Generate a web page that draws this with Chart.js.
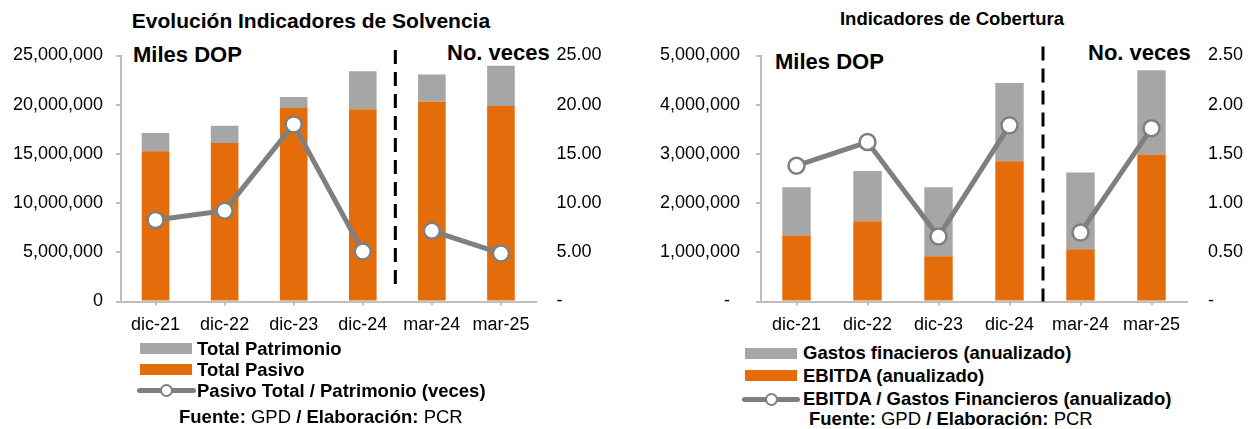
<!DOCTYPE html>
<html lang="es">
<head>
<meta charset="utf-8">
<title>Indicadores de Solvencia y Cobertura</title>
<script src="https://cdn.jsdelivr.net/npm/chart.js@4.4.1/dist/chart.umd.min.js"></script>
<style>
  html, body { margin: 0; padding: 0; background: #fff; }
  body {
    width: 1255px; height: 429px; position: relative; overflow: hidden;
    font-family: "Liberation Sans", Arial, sans-serif; color: #000;
  }
  canvas { position: absolute; top: 0; }
  .txt { position: absolute; white-space: nowrap; }
  .title { font-weight: bold; transform: translateX(-50%); }
  .unit { font-weight: bold; font-size: 22px; line-height: 22px; }
  .leg { font-weight: bold; font-size: 18.5px; line-height: 20px; }
  .src { font-size: 18.5px; line-height: 20px; }
  .src b { font-weight: bold; }
  .swatch { position: absolute; }
  .lineSwatch { position: absolute; height: 5px; background: #7F7F7F; border-radius: 3px; }
  .lineSwatch i {
    position: absolute; left: 50%; top: 50%; width: 9px; height: 9px;
    margin: -6.5px 0 0 -6.5px; border: 2px solid #7F7F7F; border-radius: 50%; background: #fff;
  }
</style>
</head>
<body>

<div class="txt title" style="left:311px; top:9px; font-size:21px; line-height:24px;">Evolución Indicadores de Solvencia</div>
<div class="txt title" style="left:952px; top:8px; font-size:18.5px; line-height:22px;">Indicadores de Cobertura</div>

<div class="txt unit" style="left:133px; top:44px;">Miles DOP</div>
<div class="txt unit" style="left:447px; top:42px;">No. veces</div>
<div class="txt unit" style="left:775px; top:51px;">Miles DOP</div>
<div class="txt unit" style="left:1088px; top:42px;">No. veces</div>

<canvas id="solvencia" width="620" height="340" style="left:0;"></canvas>
<canvas id="cobertura" width="635" height="340" style="left:620px;"></canvas>

<div id="legendSolvencia"></div>
<div id="legendCobertura"></div>

<div class="txt src" style="left:179px; top:407px;"><b>Fuente:</b> GPD <b>/</b> <b>Elaboración:</b> PCR</div>
<div class="txt src" style="left:809px; top:409px;"><b>Fuente:</b> GPD <b>/</b> <b>Elaboración:</b> PCR</div>

<script>
// ---- data ----
const categories = ['dic-21', 'dic-22', 'dic-23', 'dic-24', 'mar-24', 'mar-25'];

// Solvencia (miles DOP / veces)
const totalPasivo = [15260000, 16100000, 19670000, 19540000, 20290000, 19880000];
const totalPatrimonio = [1860000, 1760000, 1100000, 3850000, 2790000, 4080000];
const pasivoSobrePatrimonio = [8.29, 9.23, 18.0, 5.08, 7.19, 4.88];

// Cobertura (miles DOP / veces)
const ebitda = [1340000, 1630000, 920000, 2850000, 1060000, 2990000];
const gastosFinancieros = [980000, 1020000, 1400000, 1590000, 1560000, 1710000];
const ebitdaSobreGastos = [1.38, 1.62, 0.66, 1.79, 0.70, 1.76];

const solvenciaLeftTicks = { max: 25000000, step: 5000000 };
const solvenciaRightTicks = { max: 25, step: 5 };
const coberturaLeftTicks = { max: 5000000, step: 1000000 };
const coberturaRightTicks = { max: 2.5, step: 0.5 };

// ---- styles ----
const ORANGE = '#E46C0A';
const GREY_BAR = '#A6A6A6';
const GREY_LINE = '#7F7F7F';
const AXIS = '#BFBFBF';
const FONT = '"Liberation Sans", Arial, sans-serif';

Chart.defaults.font.family = FONT;
Chart.defaults.font.size = 18;
Chart.defaults.color = '#000';

// dashed separator between the annual and the quarterly columns
const dividerPlugin = {
    id: 'divider',
    afterDatasetsDraw(chart, args, opts) {
        const { ctx, chartArea, scales } = chart;
        const x = scales.x;
        const px = (x.getPixelForValue(opts.after) + x.getPixelForValue(opts.after + 1)) / 2 + opts.shift;
        ctx.save();
        ctx.strokeStyle = '#000';
        ctx.lineWidth = 3;
        ctx.setLineDash([14, 8]);
        ctx.beginPath();
        ctx.moveTo(px, chartArea.top + opts.top);
        ctx.lineTo(px, chartArea.bottom + opts.bottom);
        ctx.stroke();
        ctx.restore();
    }
};

function lineDataset(label, data) {
    return {
        type: 'line',
        label: label,
        data: data,
        yAxisID: 'y1',
        order: 0,
        borderColor: GREY_LINE,
        borderWidth: 5,
        pointRadius: 8,
        pointHoverRadius: 8,
        pointBorderWidth: 2.5,
        pointBackgroundColor: '#fff',
        pointBorderColor: GREY_LINE,
        // no line between dic-24 and mar-24
        segment: {
            borderColor: (c) => (c.p0DataIndex === 3 ? 'rgba(0,0,0,0)' : undefined)
        }
    };
}

function barDataset(label, data, color) {
    return {
        type: 'bar',
        label: label,
        data: data,
        yAxisID: 'y',
        order: 1,
        stack: 'main',
        backgroundColor: color,
        barPercentage: 0.4,
        categoryPercentage: 1
    };
}

function buildOptions(cfg) {
    return {
        responsive: false,
        animation: false,
        events: [],
        layout: { padding: { top: 55.5, left: 0, right: 0, bottom: 0 } },
        plugins: {
            legend: { display: false },
            tooltip: { enabled: false },
            divider: { after: 3, shift: -2, top: cfg.dividerTop, bottom: cfg.dividerBottom }
        },
        scales: {
            x: {
                stacked: true,
                offset: true,
                border: { color: AXIS, width: 2 },
                grid: { drawOnChartArea: false, offset: false, tickLength: 4, color: AXIS, lineWidth: 2 },
                ticks: { padding: 8.5, maxRotation: 0, autoSkip: false },
                afterFit: (s) => { s.height = 38.5; }
            },
            y: {
                stacked: true,
                position: 'left',
                min: 0,
                max: cfg.left.max,
                border: { color: AXIS, width: 2 },
                grid: { drawOnChartArea: false, tickLength: 5, color: AXIS, lineWidth: 2 },
                ticks: {
                    stepSize: cfg.left.step,
                    padding: cfg.leftPad,
                    callback: cfg.leftFormat
                },
                afterFit: (s) => { s.width = cfg.leftWidth; }
            },
            y1: {
                position: 'right',
                min: 0,
                max: cfg.right.max,
                border: { display: false },
                grid: { display: false, drawTicks: false },
                ticks: {
                    stepSize: cfg.right.step,
                    padding: 21,
                    crossAlign: 'near',
                    callback: (v) => (v === 0 ? '-' : v.toFixed(2))
                },
                afterFit: (s) => { s.width = cfg.rightWidth; }
            }
        }
    };
}

function renderLegend(holderId, chart, rows) {
    const holder = document.getElementById(holderId);
    // top of the stack first, as in the original legend
    const order = [1, 0, 2];
    order.forEach((dsIndex, i) => {
        const ds = chart.data.datasets[dsIndex];
        const row = rows[i];
        if (ds.type === 'line') {
            const sw = document.createElement('div');
            sw.className = 'lineSwatch';
            sw.style.left = row.swLeft + 'px';
            sw.style.width = row.swWidth + 'px';
            sw.style.top = (row.cy - 2.5) + 'px';
            sw.appendChild(document.createElement('i'));
            holder.appendChild(sw);
        } else {
            const sw = document.createElement('div');
            sw.className = 'swatch';
            sw.style.left = row.swLeft + 'px';
            sw.style.width = row.swWidth + 'px';
            sw.style.top = (row.cy - 5.5) + 'px';
            sw.style.height = '11px';
            sw.style.background = ds.backgroundColor;
            holder.appendChild(sw);
        }
        const t = document.createElement('div');
        t.className = 'txt leg';
        t.style.left = row.textLeft + 'px';
        t.style.top = (row.cy - 10) + 'px';
        t.textContent = ds.label;
        holder.appendChild(t);
    });
}

// ---- Solvencia ----
const solvencia = new Chart(document.getElementById('solvencia'), {
    data: {
        labels: categories,
        datasets: [
            barDataset('Total Pasivo', totalPasivo, ORANGE),
            barDataset('Total Patrimonio', totalPatrimonio, GREY_BAR),
            lineDataset('Pasivo Total / Patrimonio (veces)', pasivoSobrePatrimonio)
        ]
    },
    options: buildOptions({
        left: solvenciaLeftTicks,
        right: solvenciaRightTicks,
        leftWidth: 121,
        rightWidth: 84.5,
        leftPad: 13,
        leftFormat: (v) => v.toLocaleString('en-US'),
        dividerTop: -5.5,
        dividerBottom: -12.5
    }),
    plugins: [dividerPlugin]
});

// ---- Cobertura ----
const cobertura = new Chart(document.getElementById('cobertura'), {
    data: {
        labels: categories,
        datasets: [
            barDataset('EBITDA (anualizado)', ebitda, ORANGE),
            barDataset('Gastos finacieros (anualizado)', gastosFinancieros, GREY_BAR),
            lineDataset('EBITDA / Gastos Financieros (anualizado)', ebitdaSobreGastos)
        ]
    },
    options: buildOptions({
        left: coberturaLeftTicks,
        right: coberturaRightTicks,
        leftWidth: 141,
        rightWidth: 68,
        leftPad: 16,
        leftFormat: (v) => (v === 0 ? '-  ' : v.toLocaleString('en-US')),
        dividerTop: -9,
        dividerBottom: 0
    }),
    plugins: [dividerPlugin]
});

renderLegend('legendSolvencia', solvencia, [
    { swLeft: 140, swWidth: 52, textLeft: 197, cy: 348.5 },
    { swLeft: 140, swWidth: 52, textLeft: 197, cy: 369.5 },
    { swLeft: 137, swWidth: 59, textLeft: 197, cy: 390.5 }
]);
renderLegend('legendCobertura', cobertura, [
    { swLeft: 745, swWidth: 52, textLeft: 803, cy: 353 },
    { swLeft: 745, swWidth: 52, textLeft: 803, cy: 375.5 },
    { swLeft: 742, swWidth: 58, textLeft: 803, cy: 399 }
]);
</script>
</body>
</html>
